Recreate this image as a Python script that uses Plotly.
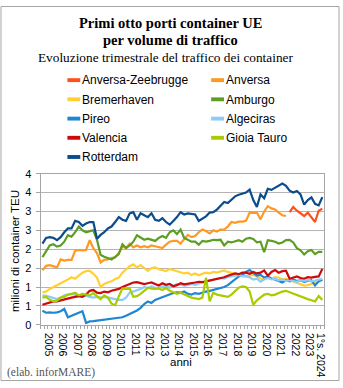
import plotly.graph_objects as go

W, H = 343, 388

# Quarter categories (2005 Q1 .. 2024 Q2) and year tick labels
quarters = [f"{y} T{q}" for y in range(2005, 2024) for q in (1, 2, 3, 4)] + ["2024 T1", "2024 T2"]
year_keys = [str(y) for y in range(2005, 2025)]
year_ticks = [str(y) for y in range(2005, 2024)] + ["1°s. 2024"]

y_tickvals = [0, 0.5, 1, 1.5, 2, 2.5, 3, 3.5, 4]
y_ticktext = ["0", "1", "1", "2", "2", "3", "3", "4", "4"]

# Quarterly traffic, millions of TEU
anversa = [1.44, 1.56, 1.58, 1.55, 1.52, 1.73, 1.70, 1.72, 1.72, 1.96, 1.98, 1.97,
           1.98, 2.24, 2.03, 1.90, 1.65, 1.72, 1.73, 1.77, 1.78, 1.90, 2.07, 2.03,
           2.15, 2.05, 2.10, 2.05, 2.08, 2.05, 2.10, 2.08, 2.05, 2.03, 2.12, 2.20,
           2.22, 2.22, 2.15, 2.28, 2.38, 2.32, 2.35, 2.45, 2.52, 2.48, 2.42, 2.50,
           2.47, 2.52, 2.52, 2.60, 2.72, 2.70, 2.73, 2.73, 2.75, 2.97, 2.96, 2.97,
           2.79, 3.00, 3.14, 3.08, 3.05, 2.97, 2.90, 2.88]
anversa_zeebrugge = [2.98, 3.12, 3.02, 2.95, 2.88, 2.97, 2.85, 2.72, 3.02, 3.07]
bremerhaven = [0.86, 0.88, 0.95, 1.00, 1.05, 1.08, 1.15, 1.20, 1.26, 1.22, 1.30, 1.38,
               1.42, 1.43, 1.35, 1.25, 1.00, 1.08, 1.12, 1.15, 1.21, 1.25, 1.38, 1.47,
               1.55, 1.60, 1.52, 1.58, 1.50, 1.43, 1.50, 1.52, 1.47, 1.44, 1.42, 1.48,
               1.45, 1.44, 1.40, 1.36, 1.38, 1.32, 1.36, 1.31, 1.35, 1.38, 1.36, 1.40,
               1.38, 1.42, 1.44, 1.40, 1.38, 1.36, 1.34, 1.30, 1.27, 1.30, 1.32, 1.28,
               1.22, 1.21, 1.26, 1.22, 1.26, 1.25, 1.20, 1.22, 1.18, 1.16, 1.12, 1.08,
               1.04, 1.05, 1.08, 1.10, 1.15, 1.18]
amburgo = [1.79, 1.95, 2.10, 2.13, 2.07, 2.10, 2.20, 2.37, 2.33, 2.45, 2.60, 2.50,
           2.45, 2.48, 2.50, 2.25, 1.85, 1.80, 1.77, 1.73, 1.80, 1.87, 2.13, 2.03,
           2.10, 2.20, 2.37, 2.30, 2.25, 2.28, 2.26, 2.22, 2.30, 2.35, 2.30, 2.45,
           2.50, 2.40, 2.52, 2.30, 2.25, 2.20, 2.20, 2.12, 2.22, 2.20, 2.22, 2.25,
           2.24, 2.25, 2.10, 2.20, 2.18, 2.22, 2.24, 2.20, 2.28, 2.30, 2.27, 2.18,
           2.20, 1.92, 2.24, 2.22, 2.20, 2.15, 2.18, 2.24, 2.25, 2.18, 2.03, 1.97,
           1.86, 1.95, 1.98, 1.87, 1.93, 1.93]
pireo = [0.37, 0.32, 0.33, 0.32, 0.33, 0.36, 0.42, 0.20, 0.24, 0.28, 0.32, 0.36,
         0.05, 0.09, 0.10, 0.11, 0.12, 0.13, 0.14, 0.15, 0.16, 0.18, 0.20, 0.24,
         0.28, 0.33, 0.38, 0.45, 0.55, 0.62, 0.58, 0.66, 0.70, 0.74, 0.78, 0.82,
         0.84, 0.86, 0.85, 0.88, 0.82, 0.80, 0.84, 0.82, 0.86, 0.88, 0.90, 0.92,
         0.94, 0.98, 1.00, 1.05, 1.12, 1.20, 1.28, 1.32, 1.40, 1.45, 1.38, 1.30,
         1.32, 1.25, 1.28, 1.22, 1.20, 1.17, 1.12, 1.18, 1.15, 1.20, 1.16, 1.18,
         1.14, 1.16, 1.18, 1.04, 1.15, 1.20]
algeciras = [0.78, 0.77, 0.74, 0.70, 0.68, 0.72, 0.78, 0.80, 0.82, 0.80, 0.78, 0.80,
             0.76, 0.74, 0.72, 0.74, 0.72, 0.74, 0.72, 0.70, 0.68, 0.66, 0.66, 0.72,
             0.85, 0.88, 0.92, 0.95, 1.00, 0.97, 1.02, 0.98, 0.98, 1.00, 1.04, 0.98,
             1.02, 1.08, 1.06, 1.04, 1.05, 1.08, 1.06, 1.10, 1.12, 1.15, 1.18, 1.20,
             1.22, 1.24, 1.22, 1.26, 1.28, 1.30, 1.32, 1.28, 1.30, 1.25, 1.20, 1.22,
             1.14, 1.20, 1.24, 1.20, 1.22, 1.18, 1.20, 1.16, 1.18, 1.16, 1.14, 1.18,
             1.16, 1.18, 1.15, 1.17, 1.20, 1.22]
valencia = [0.53, 0.56, 0.60, 0.62, 0.62, 0.65, 0.68, 0.70, 0.72, 0.74, 0.76, 0.74,
            0.80, 0.90, 0.92, 0.85, 0.84, 0.88, 0.86, 0.90, 0.92, 0.95, 1.00, 1.04,
            1.08, 1.12, 1.13, 1.10, 1.08, 1.10, 1.12, 1.08, 1.04, 1.10, 1.06, 1.08,
            1.02, 1.05, 1.10, 1.07, 1.08, 1.10, 1.12, 1.14, 1.13, 1.15, 1.17, 1.20,
            1.22, 1.24, 1.26, 1.30, 1.32, 1.36, 1.34, 1.38, 1.38, 1.35, 1.40, 1.36,
            1.38, 1.44, 1.30, 1.40, 1.45, 1.38, 1.42, 1.43, 1.22, 1.25, 1.28, 1.24,
            1.22, 1.26, 1.25, 1.27, 1.28, 1.48]
gioia_tauro = [0.72, 0.74, 0.66, 0.62, 0.64, 0.72, 0.74, 0.80, 0.82, 0.85, 0.78, 0.82,
               0.80, 0.78, 0.84, 0.75, 0.68, 0.78, 0.72, 0.56, 0.52, 0.75, 0.96, 0.95,
               0.96, 0.74, 0.76, 0.82, 0.90, 0.98, 0.96, 0.95, 0.96, 0.92, 0.98, 0.90,
               0.86, 0.82, 0.85, 0.80, 0.75, 0.72, 0.70, 0.68, 0.72, 1.25, 0.62, 0.85,
               0.80, 0.78, 0.74, 0.74, 0.80, 0.88, 0.98, 1.02, 1.00, 0.88, 0.53, 0.65,
               0.72, 0.80, 0.82, 0.78, 0.80, 0.85, 0.88, 0.90, 0.86, 0.82, 0.80, 0.75,
               0.70, 0.68, 0.65, 0.62, 0.76, 0.66]
rotterdam = [2.15, 2.30, 2.32, 2.30, 2.24, 2.32, 2.45, 2.55, 2.55, 2.75, 2.72, 2.62,
             2.68, 2.72, 2.72, 2.28, 2.38, 2.45, 2.55, 2.60, 2.72, 2.85, 2.78, 2.75,
             2.95, 2.98, 2.78, 2.95, 2.90, 2.85, 2.95, 2.78, 2.75, 2.82, 2.72, 2.65,
             2.75, 2.85, 2.98, 2.92, 2.95, 2.93, 2.92, 2.75, 2.82, 2.87, 2.97, 2.98,
             3.05, 3.14, 3.25, 3.22, 3.30, 3.40, 3.44, 3.47, 3.50, 3.58, 3.30, 3.12,
             3.45, 3.35, 3.60, 3.57, 3.63, 3.70, 3.74, 3.68, 3.55, 3.50, 3.54, 3.45,
             3.18, 3.30, 3.37, 3.20, 3.16, 3.38]

# name, values, colour, first quarter index
series = [
    ("Anversa-Zeebrugge", anversa_zeebrugge, "#FF4F1C", 68),
    ("Anversa", anversa, "#FF9922", 0),
    ("Bremerhaven", bremerhaven, "#FFCF33", 0),
    ("Amburgo", amburgo, "#5C9E24", 0),
    ("Pireo", pireo, "#1E86D2", 0),
    ("Algeciras", algeciras, "#8DCBFA", 0),
    ("Valencia", valencia, "#CC0A0A", 0),
    ("Gioia Tauro", gioia_tauro, "#A8CC00", 0),
    ("Rotterdam", rotterdam, "#0B4C8C", 0),
]

SANS = "Arial, Liberation Sans, sans-serif"
SERIF = "Times New Roman, Liberation Serif, serif"


def px(x):
    return x / W


def py(y):
    return 1 - y / H


fig = go.Figure()
for name, vals, color, start in series:
    idx = list(range(start, start + len(vals)))
    fig.add_trace(go.Scatter(
        x=idx, y=vals, mode="lines", name=name,
        customdata=[quarters[i] for i in idx],
        hovertemplate="%{customdata}: %{y:.2f}<extra>" + name + "</extra>",
        line=dict(color=color, width=2.2), showlegend=False,
    ))

# year label sits in the middle of its quarters
tick_pos = []
for key in year_keys:
    pos = [i for i, q in enumerate(quarters) if q.startswith(key)]
    tick_pos.append(sum(pos) / len(pos))

axis_grey = "#a6a6a6"
fig.update_xaxes(
    domain=[px(41), px(327)], range=[-0.5, len(quarters) - 0.5],
    showgrid=False, zeroline=False, showline=True, linecolor=axis_grey, linewidth=1,
    mirror=True, tickmode="array", tickvals=tick_pos, ticktext=year_ticks,
    tickangle=90, ticks="", ticklabelstandoff=5,
    tickfont=dict(family=SANS, size=10.5, color="#000"),
    minor=dict(ticks="outside", ticklen=3, tickcolor=axis_grey, tickmode="linear",
               tick0=-0.5, dtick=1, showgrid=False),
)
fig.update_yaxes(
    domain=[py(329), py(173)], range=[0, 4],
    tickmode="array", tickvals=y_tickvals, ticktext=y_ticktext,
    showgrid=True, gridcolor="#b4b4b4", gridwidth=1, zeroline=False,
    showline=True, linecolor=axis_grey, linewidth=1, mirror=True,
    ticks="outside", ticklen=4, tickcolor=axis_grey, ticklabelstandoff=2,
    tickfont=dict(family=SANS, size=11, color="#000"),
)

ann = []
# titles
ann.append(dict(text="<b>Primi otto porti container UE</b>", x=px(171.5), y=py(17.5),
                font=dict(family=SERIF, size=14.5, color="#000")))
ann.append(dict(text="<b>per volume di traffico</b>", x=px(171.5), y=py(35.5),
                font=dict(family=SERIF, size=14.5, color="#000")))
ann.append(dict(text="Evoluzione trimestrale del traffico dei container", x=px(167), y=py(53.5),
                font=dict(family=SERIF, size=13.3, color="#000")))
# axis titles and source
ann.append(dict(text="milioni di container TEU", x=px(14), y=py(253), textangle=-90,
                font=dict(family=SANS, size=11.6, color="#000")))
ann.append(dict(text="anni", x=px(183), y=py(367.5),
                font=dict(family=SANS, size=11.5, color="#000")))
ann.append(dict(text="(elab. inforMARE)", x=px(5), y=py(378), xanchor="left",
                font=dict(family=SERIF, size=11.5, color="#555")))

shapes = []
# legend in two columns
row_y = [76.5, 96.3, 116.2, 136.0, 155.8]
col_sym = [(68, 81), (213, 226)]
col_txt = [81, 226]
for k, (name, vals, color, start) in enumerate(series):
    r, c = divmod(k, 2)
    yc = row_y[r]
    x0, x1 = col_sym[c]
    shapes.append(dict(type="rect", xref="paper", yref="paper",
                       x0=px(x0), x1=px(x1), y0=py(yc + 2), y1=py(yc - 2),
                       fillcolor=color, line=dict(width=0)))
    ann.append(dict(text=name, x=px(col_txt[c]), y=py(yc + 0.3), xanchor="left",
                    font=dict(family=SANS, size=12, color="#000")))

# chart frame
shapes.append(dict(type="rect", xref="paper", yref="paper",
                   x0=px(1), x1=px(342), y0=py(386.5), y1=py(0.5),
                   line=dict(color="#a6a6a6", width=1), fillcolor="rgba(0,0,0,0)"))

for a in ann:
    a.setdefault("xref", "paper")
    a.setdefault("yref", "paper")
    a.setdefault("xanchor", "center")
    a.setdefault("yanchor", "middle")
    a.setdefault("showarrow", False)

fig.update_layout(
    width=W, height=H, margin=dict(l=0, r=0, t=0, b=0),
    paper_bgcolor="white", plot_bgcolor="white",
    showlegend=False, annotations=ann, shapes=shapes,
    font=dict(family=SANS, color="#000"),
)

fig.write_html("out.html")
